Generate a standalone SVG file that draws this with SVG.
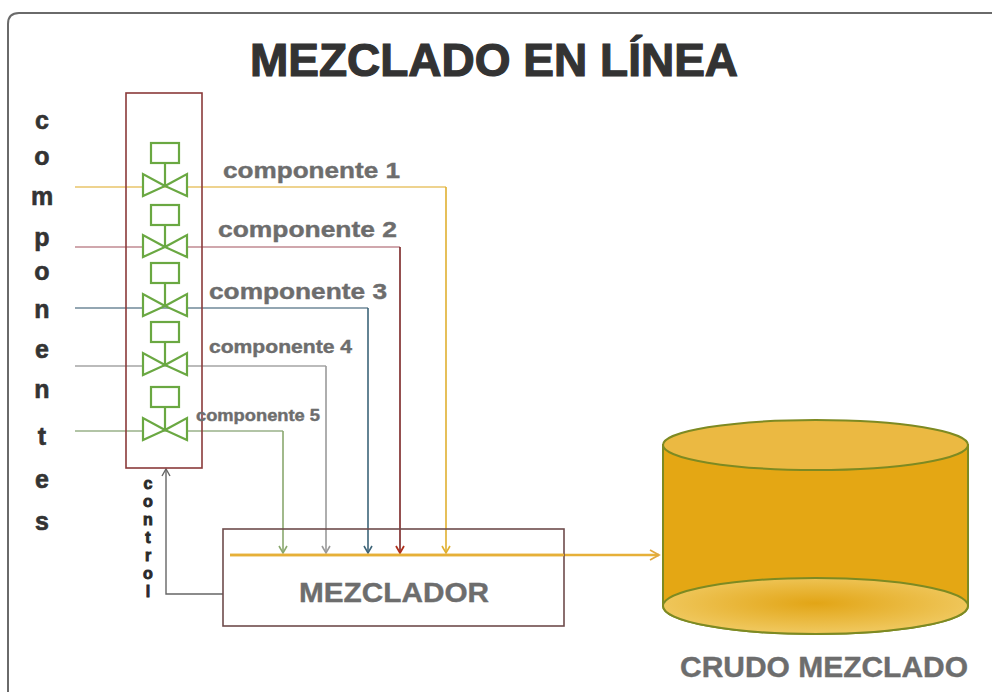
<svg xmlns="http://www.w3.org/2000/svg" width="995" height="692" viewBox="0 0 995 692">
  <style>
    .title { font-family: "Liberation Sans", Arial, sans-serif; font-weight: bold; font-size: 46px; fill: #333333; stroke: #333333; stroke-width: 1.2; }
    .side { font-family: "Liberation Sans", Arial, sans-serif; font-weight: bold; font-size: 25px; fill: #333333; stroke: #333333; stroke-width: 0.6; text-anchor: middle; }
    .ctl { font-family: "Liberation Sans", Arial, sans-serif; font-weight: bold; font-size: 16px; fill: #2a2a2a; stroke: #2a2a2a; stroke-width: 0.9; text-anchor: middle; }
    .lbl { font-family: "Liberation Sans", Arial, sans-serif; font-weight: bold; fill: #6d6d6d; stroke: #6d6d6d; stroke-width: 0.4; }
    .valve { fill: #ffffff; stroke: #6aa842; stroke-width: 2.2; }
    .stem { stroke: #6aa842; stroke-width: 2.2; fill: none; }
    .pipe { fill: none; stroke-width: 1.6; }
  </style>
  <defs>
    <marker id="arrY" markerWidth="10" markerHeight="10" refX="8" refY="5" orient="auto" markerUnits="userSpaceOnUse">
      <path d="M1,1 L8,5 L1,9" fill="none" stroke="#e0b030" stroke-width="1.6"/>
    </marker>
    <marker id="arrR" markerWidth="10" markerHeight="10" refX="8" refY="5" orient="auto" markerUnits="userSpaceOnUse">
      <path d="M1,1 L8,5 L1,9" fill="none" stroke="#b0301c" stroke-width="1.8"/>
    </marker>
    <marker id="arrB" markerWidth="10" markerHeight="10" refX="8" refY="5" orient="auto" markerUnits="userSpaceOnUse">
      <path d="M1,1 L8,5 L1,9" fill="none" stroke="#3d6478" stroke-width="1.6"/>
    </marker>
    <marker id="arrG" markerWidth="10" markerHeight="10" refX="8" refY="5" orient="auto" markerUnits="userSpaceOnUse">
      <path d="M1,1 L8,5 L1,9" fill="none" stroke="#9a9a9a" stroke-width="1.6"/>
    </marker>
    <marker id="arrV" markerWidth="10" markerHeight="10" refX="8" refY="5" orient="auto" markerUnits="userSpaceOnUse">
      <path d="M1,1 L8,5 L1,9" fill="none" stroke="#8aa86e" stroke-width="1.6"/>
    </marker>
    <marker id="arrK" markerWidth="10" markerHeight="10" refX="8" refY="5" orient="auto" markerUnits="userSpaceOnUse">
      <path d="M1,1 L8,5 L1,9" fill="none" stroke="#666666" stroke-width="1.4"/>
    </marker>
    <marker id="arrO" markerWidth="12" markerHeight="12" refX="10" refY="6" orient="auto" markerUnits="userSpaceOnUse">
      <path d="M1,1 L10,6 L1,11" fill="none" stroke="#e0a840" stroke-width="1.8"/>
    </marker>
    <radialGradient id="tankBottom" cx="0.5" cy="0.45" r="0.5">
      <stop offset="0" stop-color="#e2a516"/>
      <stop offset="1" stop-color="#efc65a"/>
    </radialGradient>
  </defs>

  <rect width="995" height="692" fill="#ffffff"/>

  <!-- frame -->
  <path d="M8,692 L8,24 Q8,13 19,13 L992,13" fill="none" stroke="#6a6a6a" stroke-width="2"/>

  <text class="title" x="494" y="76" text-anchor="middle">MEZCLADO EN LÍNEA</text>

  <!-- side caption, one letter per row -->
  <g id="componentes">
    <text class="side" x="42" y="129">c</text>
    <text class="side" x="42" y="165">o</text>
    <text class="side" x="42" y="205">m</text>
    <text class="side" x="42" y="246">p</text>
    <text class="side" x="42" y="280">o</text>
    <text class="side" x="42" y="318">n</text>
    <text class="side" x="42" y="358">e</text>
    <text class="side" x="42" y="398">n</text>
    <text class="side" x="42" y="445">t</text>
    <text class="side" x="42" y="488">e</text>
    <text class="side" x="42" y="530">s</text>
  </g>

  <!-- connectors -->
  <g id="connectors">
    <!-- componente 1 -->
    <path class="pipe" d="M75,187 H446" stroke="#e8c56a"/>
    <path class="pipe" d="M446,187 V553" stroke="#e0b030" marker-end="url(#arrY)"/>
    <!-- componente 2 -->
    <path class="pipe" d="M75,247 H400" stroke="#c08a92"/>
    <path class="pipe" d="M400,247 V553" stroke="#7a2424" stroke-width="1.8" marker-end="url(#arrR)"/>
    <!-- componente 3 -->
    <path class="pipe" d="M75,308 H368" stroke="#6f8898"/>
    <path class="pipe" d="M368,308 V553" stroke="#3d6478" marker-end="url(#arrB)"/>
    <!-- componente 4 -->
    <path class="pipe" d="M75,366 H326" stroke="#a4a4a4"/>
    <path class="pipe" d="M326,366 V553" stroke="#9a9a9a" marker-end="url(#arrG)"/>
    <!-- componente 5 -->
    <path class="pipe" d="M75,431 H283" stroke="#98b088"/>
    <path class="pipe" d="M283,431 V553" stroke="#8aa86e" marker-end="url(#arrV)"/>
    <!-- mixed stream to tank -->
    <path d="M230,555 H659" fill="none" stroke="#e6b038" stroke-width="2.4" marker-end="url(#arrO)"/>
    <!-- control signal -->
    <path d="M223,594 H166 V469" fill="none" stroke="#666666" stroke-width="1.4" marker-end="url(#arrK)"/>
  </g>

  <!-- valve rack -->
  <g id="valve-rack">
    <rect x="126" y="93" width="76" height="375" fill="none" stroke="#8a3a3a" stroke-width="1.6"/>
  </g>

  <g id="valve-1" transform="translate(165,186)">
    <line class="stem" x1="0" y1="-23" x2="0" y2="0"/>
    <rect class="valve" x="-14" y="-43" width="28" height="20"/>
    <path class="valve" d="M-22,-12 L-22,10 L0,0 Z M22,-12 L22,10 L0,0 Z"/>
  </g>
  <g id="valve-2" transform="translate(165,247)">
    <line class="stem" x1="0" y1="-23" x2="0" y2="0"/>
    <rect class="valve" x="-14" y="-42" width="28" height="20"/>
    <path class="valve" d="M-22,-12 L-22,10 L0,0 Z M22,-12 L22,10 L0,0 Z"/>
  </g>
  <g id="valve-3" transform="translate(165,306)">
    <line class="stem" x1="0" y1="-23" x2="0" y2="0"/>
    <rect class="valve" x="-14" y="-43" width="28" height="20"/>
    <path class="valve" d="M-22,-12 L-22,10 L0,0 Z M22,-12 L22,10 L0,0 Z"/>
  </g>
  <g id="valve-4" transform="translate(165,365)">
    <line class="stem" x1="0" y1="-23" x2="0" y2="0"/>
    <rect class="valve" x="-14" y="-43" width="28" height="20"/>
    <path class="valve" d="M-22,-12 L-22,10 L0,0 Z M22,-12 L22,10 L0,0 Z"/>
  </g>
  <g id="valve-5" transform="translate(165,430)">
    <line class="stem" x1="0" y1="-23" x2="0" y2="0"/>
    <rect class="valve" x="-14" y="-43" width="28" height="20"/>
    <path class="valve" d="M-22,-12 L-22,10 L0,0 Z M22,-12 L22,10 L0,0 Z"/>
  </g>

  <!-- stream labels -->
  <g id="labels">
    <text class="lbl" x="223" y="178" font-size="22" textLength="177" lengthAdjust="spacingAndGlyphs">componente 1</text>
    <text class="lbl" x="218" y="237" font-size="22" textLength="179" lengthAdjust="spacingAndGlyphs">componente 2</text>
    <text class="lbl" x="209" y="299" font-size="22" textLength="178" lengthAdjust="spacingAndGlyphs">componente 3</text>
    <text class="lbl" x="209" y="353" font-size="18" textLength="143" lengthAdjust="spacingAndGlyphs">componente 4</text>
    <text class="lbl" x="196" y="421" font-size="16" textLength="124" lengthAdjust="spacingAndGlyphs">componente 5</text>
  </g>

  <!-- control caption, one letter per row -->
  <g id="control">
    <text class="ctl" x="148" y="489">c</text>
    <text class="ctl" x="148" y="507">o</text>
    <text class="ctl" x="148" y="525">n</text>
    <text class="ctl" x="148" y="543">t</text>
    <text class="ctl" x="148" y="561">r</text>
    <text class="ctl" x="148" y="579">o</text>
    <text class="ctl" x="148" y="597">l</text>
  </g>

  <!-- mixer -->
  <g id="mezclador">
    <rect x="223" y="529" width="341" height="97" fill="none" stroke="#6e4c4c" stroke-width="1.6"/>
    <path d="M230,555 H564" fill="none" stroke="#e6b038" stroke-width="2.4"/>
    <text class="lbl" x="394" y="602" font-size="28" text-anchor="middle" textLength="190" lengthAdjust="spacingAndGlyphs">MEZCLADOR</text>
  </g>

  <!-- storage tank -->
  <g id="tanque">
    <path d="M663,445 V606 A152.5,28 0 0 0 968,606 V445 Z" fill="#e4a714" stroke="#7d8a22" stroke-width="2"/>
    <ellipse cx="815.5" cy="606" rx="152.5" ry="28" fill="url(#tankBottom)" stroke="#7d8a22" stroke-width="2"/>
    <ellipse cx="815.5" cy="445" rx="152.5" ry="25" fill="#ebb942" stroke="#7d8a22" stroke-width="2"/>
    <text class="lbl" x="680" y="677" font-size="30" textLength="288" lengthAdjust="spacingAndGlyphs">CRUDO MEZCLADO</text>
  </g>
</svg>
